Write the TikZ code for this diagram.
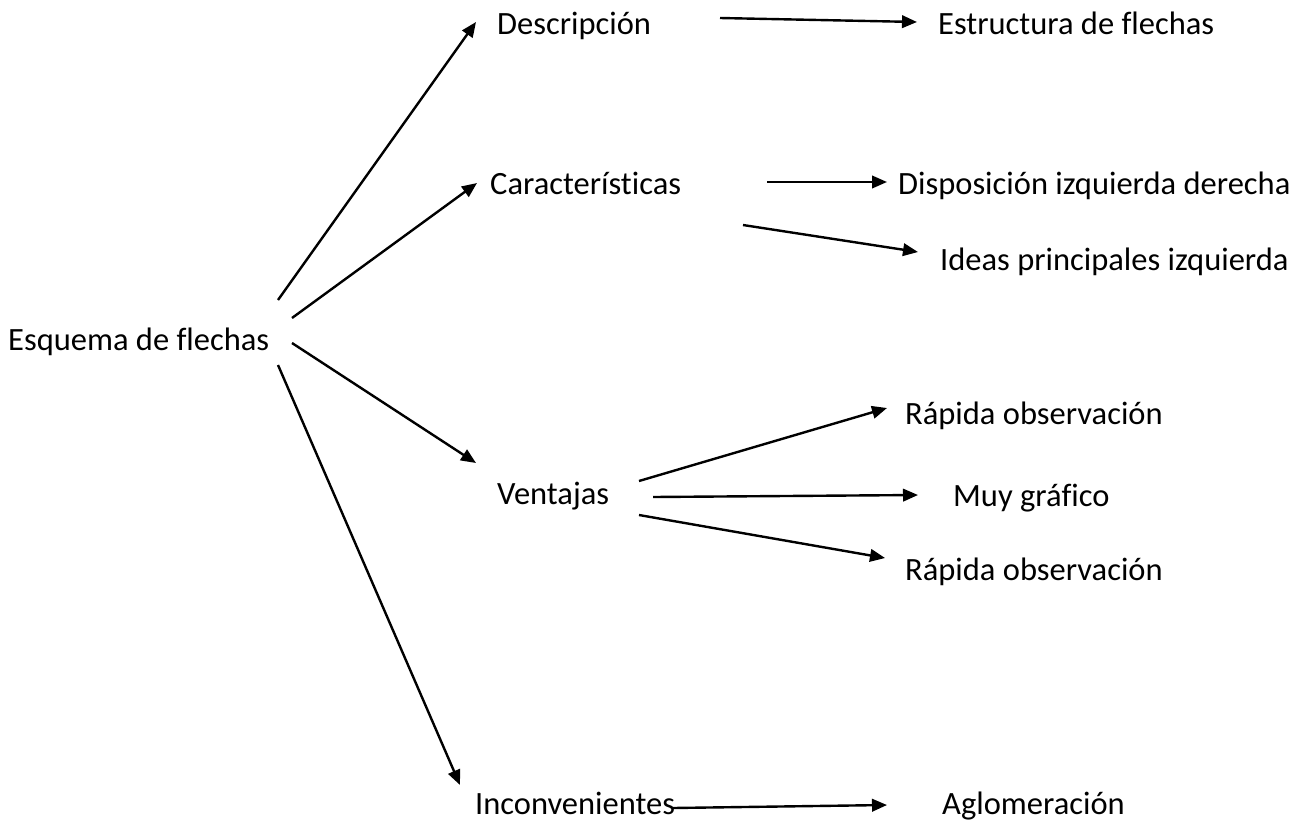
\documentclass[tikz,border=0pt]{standalone}
\usepackage{fontspec}
\setmainfont{Carlito}[Ligatures=NoCommon]
\usepackage{tikz}
\usetikzlibrary{arrows.meta}

\begin{document}
\begin{tikzpicture}[x=1pt, y=-1pt,
        lbl/.style={inner sep=0pt, anchor=base west, font=\fontsize{32.5}{38}\selectfont},
        arr/.style={line width=2.4pt, -{Triangle[length=15pt, width=12.5pt]}}]
        \useasboundingbox (0,0) rectangle (1301,825);
        % left column
        \node[lbl] (esq) at (8,350) {Esquema de flechas};
        % middle column
        \node[lbl] (desc) at (497,34) {Descripción};
        \node[lbl] (carac) at (490,194) {Características};
        \node[lbl] (vent) at (497,504) {Ventajas};
        \node[lbl] (incon) at (475,814) {Inconvenientes};
        % right column
        \node[lbl] (estr) at (938,34) {Estructura de flechas};
        \node[lbl] (disp) at (898,194) {Disposición izquierda derecha};
        \node[lbl] (ideas) at (940,270) {Ideas principales izquierda};
        \node[lbl] (rapA) at (905,424) {Rápida observación};
        \node[lbl] (muy) at (953,506) {Muy gráfico};
        \node[lbl] (rapB) at (905,580) {Rápida observación};
        \node[lbl] (aglo) at (942,814) {Aglomeración};

        \draw[arr] ([shift={(270,-50)}]esq.base west) -- ([shift={(-21,-12)}]desc.base west);
        \draw[arr] ([shift={(284,-32)}]esq.base west) -- ([shift={(-13,-11)}]carac.base west);
        \draw[arr] ([shift={(284,-7)}]esq.base west) -- ([shift={(-21,-41)}]vent.base west);
        \draw[arr] ([shift={(270,15)}]esq.base west) -- ([shift={(-15,-29)}]incon.base west);

        \draw[arr] ([shift={(223,-16)}]desc.base west) -- ([shift={(-21,-12)}]estr.base west);
        \draw[arr] ([shift={(277,-12)}]carac.base west) -- ([shift={(-11,-12)}]disp.base west);
        \draw[arr] ([shift={(253,31)}]carac.base west) -- ([shift={(-22,-18)}]ideas.base west);
        \draw[arr] ([shift={(142,-23)}]vent.base west) -- ([shift={(-18,-16)}]rapA.base west);
        \draw[arr] ([shift={(156,-7)}]vent.base west) -- ([shift={(-35,-11)}]muy.base west);
        \draw[arr] ([shift={(142,11)}]vent.base west) -- ([shift={(-20,-22)}]rapB.base west);
        \draw[arr] ([shift={(198,-6)}]incon.base west) -- ([shift={(-55,-9)}]aglo.base west);
\end{tikzpicture}
\end{document}
